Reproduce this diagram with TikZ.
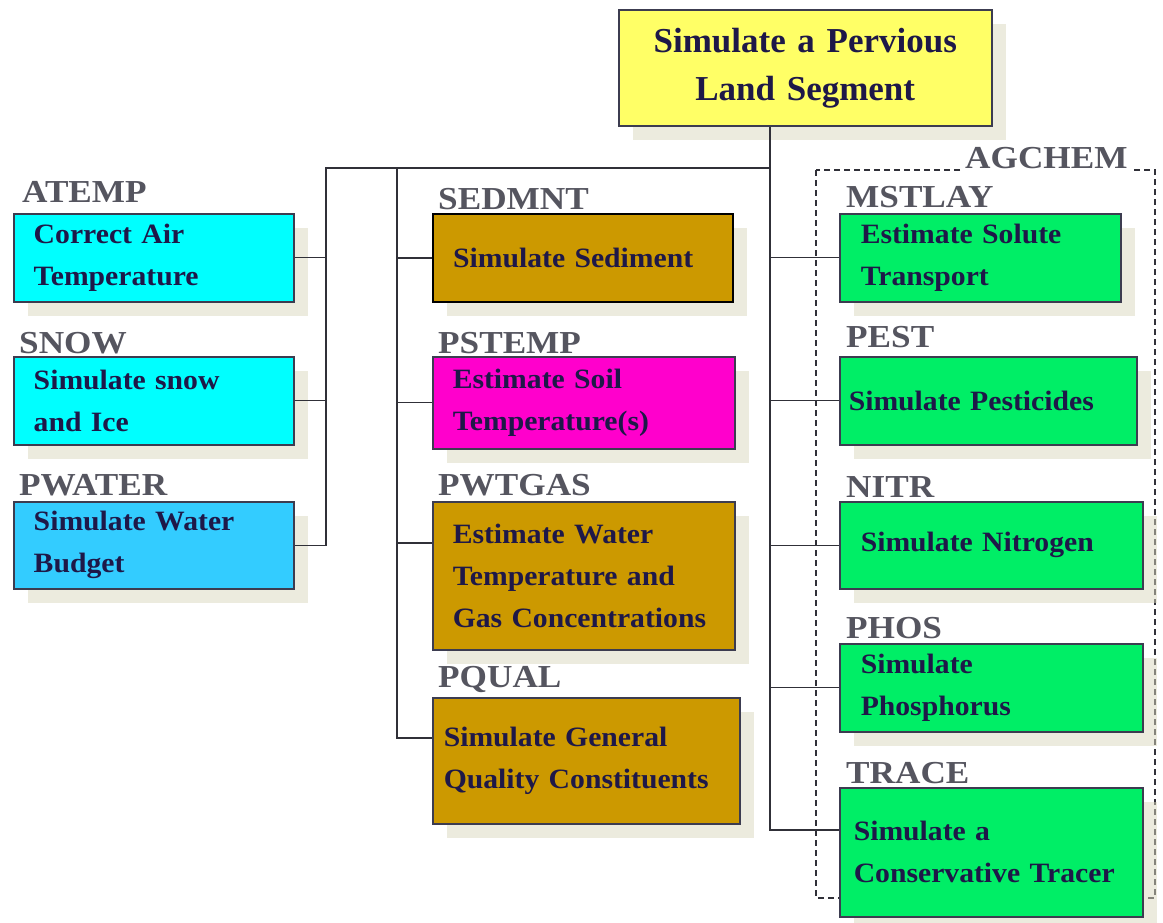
\documentclass[tikz,border=0pt]{standalone}
\usepackage{fontspec}
\setmainfont{Liberation Serif}
\newfontfamily\boxf{Liberation Serif}[FakeStretch=1.06]
\newfontfamily\labf{Liberation Serif}[FakeStretch=1.1]
\usetikzlibrary{shadows,calc}
\definecolor{yellowc}{HTML}{FFFF66}
\definecolor{cyanc}{HTML}{00FFFF}
\definecolor{bluec}{HTML}{33CCFF}
\definecolor{goldc}{HTML}{CC9900}
\definecolor{magc}{HTML}{FF00CC}
\definecolor{greenc}{HTML}{00EE66}
\definecolor{shadowc}{HTML}{DAD8BE}
\definecolor{txt}{HTML}{1E1848}
\definecolor{labc}{HTML}{55555F}
\definecolor{boxline}{HTML}{3C3C50}
\definecolor{linec}{HTML}{303038}
\tikzset{
  pbox/.style={draw=boxline, line width=1.5pt, text=txt,
    font=\boxf\bfseries\fontsize{28}{42}\selectfont, align=left,
    anchor=north west, inner ysep=0pt,
    drop shadow={shadow xshift=14pt, shadow yshift=-14pt, fill=shadowc, draw=none}},
  lab/.style={text=labc, font=\labf\bfseries\fontsize{32}{32}\selectfont,
    anchor=base west, inner sep=0pt},
  conn/.style={draw=linec, line width=1.4pt},
}
\begin{document}
\begin{tikzpicture}[x=1pt,y=-1pt]
\useasboundingbox (0,0) rectangle (1163,922);
% AGCHEM group frame
\draw[linec, line width=1.2pt, dash pattern=on 6pt off 4pt] (816,170) rectangle (1155,898);
\node[text=labc, font=\labf\bfseries\fontsize{32}{32}\selectfont, anchor=base west,
  fill=white, inner xsep=2pt, inner ysep=3pt] (agchem) at (963,168) {AGCHEM};
% top box
\node[pbox, fill=yellowc, align=center, font=\bfseries\fontsize{35}{48}\selectfont,
  minimum width=373, minimum height=116, text width=373, inner xsep=0pt] (top) at (618,9)
  {Simulate a Pervious\\Land Segment};
% left column
\node[pbox, fill=cyanc, minimum width=280, minimum height=88, text width=240, inner xsep=20pt] (atemp) at (13,213) {Correct Air\\Temperature};
\node[lab] (latemp) at (22,202) {ATEMP};
\node[pbox, fill=cyanc, minimum width=280, minimum height=88, text width=240, inner xsep=20pt] (snow) at (13,356) {Simulate snow\\and Ice};
\node[lab] (lsnow) at (19,353) {SNOW};
\node[pbox, fill=bluec, minimum width=280, minimum height=87, text width=240, inner xsep=20pt] (pwater) at (13,501) {Simulate Water\\Budget};
\node[lab] (lpwater) at (19,495) {PWATER};
% middle column
\node[pbox, fill=goldc, draw=black, line width=2.2pt, minimum width=300, minimum height=88, text width=260, inner xsep=20pt] (sedmnt) at (432,213) {Simulate Sediment};
\node[lab] (lsedmnt) at (438,209) {SEDMNT};
\node[pbox, fill=magc, minimum width=302, minimum height=92, text width=262, inner xsep=20pt] (pstemp) at (432,356) {Estimate Soil\\Temperature(s)};
\node[lab] (lpstemp) at (438,353) {PSTEMP};
\node[pbox, fill=goldc, minimum width=302, minimum height=148, text width=262, inner xsep=20pt] (pwtgas) at (432,501) {Estimate Water\\Temperature and\\Gas Concentrations};
\node[lab] (lpwtgas) at (438,495) {PWTGAS};
\node[pbox, fill=goldc, minimum width=307, minimum height=126, text width=285, inner xsep=11pt] (pqual) at (432,697) {Simulate General\\Quality Constituents};
\node[lab] (lpqual) at (438,687) {PQUAL};
% right column
\node[pbox, fill=greenc, minimum width=281, minimum height=88, text width=239, inner xsep=21pt] (mstlay) at (839,213) {Estimate Solute\\Transport};
\node[lab] (lmstlay) at (846,207) {MSTLAY};
\node[pbox, fill=greenc, minimum width=297, minimum height=88, text width=279, inner xsep=9pt] (pest) at (839,356) {Simulate Pesticides};
\node[lab] (lpest) at (846,347) {PEST};
\node[pbox, fill=greenc, minimum width=303, minimum height=87, text width=261, inner xsep=21pt] (nitr) at (839,501) {Simulate Nitrogen};
\node[lab] (lnitr) at (846,497) {NITR};
\node[pbox, fill=greenc, minimum width=303, minimum height=88, text width=261, inner xsep=21pt] (phos) at (839,643) {Simulate\\Phosphorus};
\node[lab] (lphos) at (846,638) {PHOS};
\node[pbox, fill=greenc, minimum width=303, minimum height=129, text width=275, inner xsep=14pt] (trace) at (839,787) {Simulate a\\Conservative Tracer};
\node[lab] (ltrace) at (846,783) {TRACE};
% junction points and connector points
\coordinate (jR) at (770,168);
\coordinate (jM) at (397,168);
\coordinate (jL) at (326,168);
\coordinate (cTrace) at ($(trace.north west)+(0,43)$);
\coordinate (cPwtgas) at ($(pwtgas.north west)+(0,42)$);
\coordinate (cPqual) at ($(pqual.north west)+(0,41)$);
% connectors
\draw[conn] (top.south -| jR) -- (jR |- cTrace) -- (cTrace);
\draw[conn] (jR) -- (jL) -- (jL |- pwater.east) -- (pwater.east);
\draw[conn] (atemp.east) -- (jL |- atemp.east);
\draw[conn] (snow.east) -- (jL |- snow.east);
\draw[conn] (jM) -- (jM |- cPqual) -- (cPqual);
\draw[conn] (jM |- sedmnt.west) -- (sedmnt.west);
\draw[conn] (jM |- pstemp.west) -- (pstemp.west);
\draw[conn] (jM |- cPwtgas) -- (cPwtgas);
\draw[conn] (jR |- mstlay.west) -- (mstlay.west);
\draw[conn] (jR |- pest.west) -- (pest.west);
\draw[conn] (jR |- nitr.west) -- (nitr.west);
\draw[conn] (jR |- phos.west) -- (phos.west);
\end{tikzpicture}
\end{document}
